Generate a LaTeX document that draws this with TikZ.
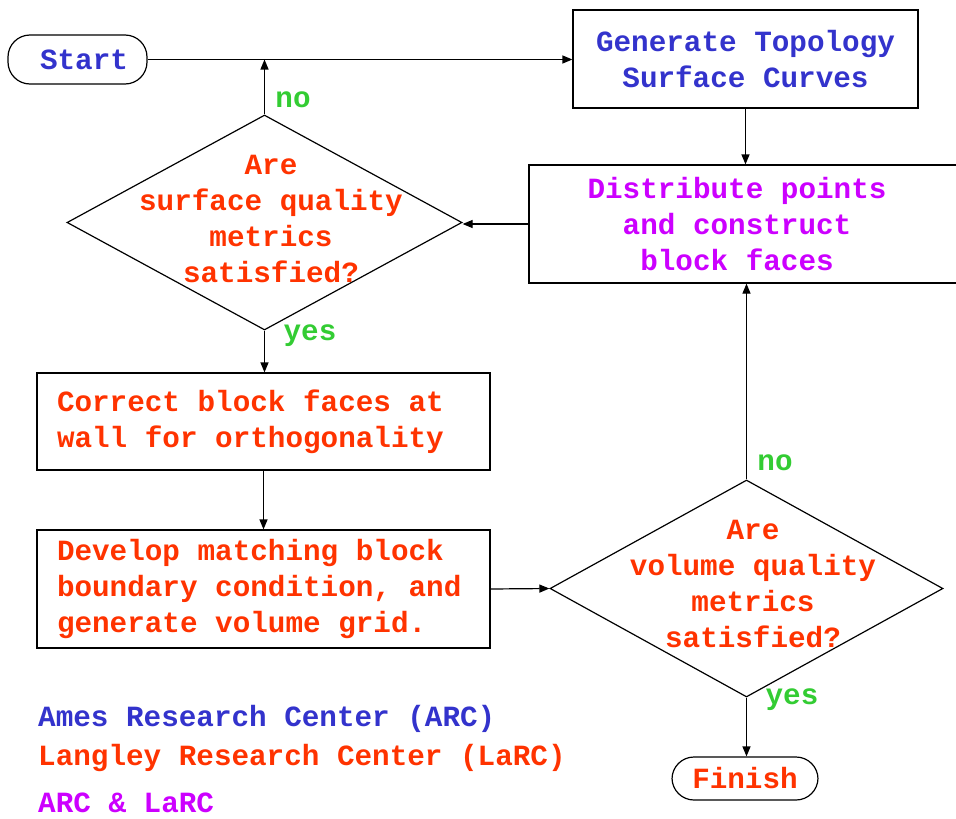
\documentclass[tikz,border=0pt]{standalone}
\usepackage{fontspec}
\setmonofont{Liberation Mono}[WordSpace={1,0,0}]
\usepackage{tikz}
\usetikzlibrary{arrows.meta,positioning,calc,shapes.geometric}
\definecolor{arcblue}{RGB}{51,51,204}
\definecolor{larcred}{RGB}{255,51,0}
\definecolor{bothpink}{RGB}{204,0,255}
\definecolor{ansgreen}{RGB}{51,204,51}
\newcommand{\fullsp}{\spaceskip=0pt\xspaceskip=0pt\relax}
\tikzset{
  txt/.style    ={font=\ttfamily\bfseries\fontsize{29.3}{36}\selectfont,inner sep=0pt},
  box/.style    ={txt,draw,line width=1.2pt,align=center},
  lbox/.style   ={box,align=left,text width=413pt,inner xsep=20pt},
  term/.style   ={box,rounded corners=22pt},
  quest/.style  ={diamond,draw,line width=1.2pt,inner sep=0pt},
  yn/.style     ={txt,text=ansgreen},
  legend/.style ={txt,anchor=west},
  arr/.style    ={-{Triangle[length=10pt,width=8pt]},line width=1.2pt},
}

\begin{document}
\begin{tikzpicture}[x=1pt,y=-1pt]
  \useasboundingbox (0,0) rectangle (956,819);
  % terminals
  \node[term,text=arcblue,minimum width=139pt,minimum height=49pt] (start) at (77.5,59.5) {\hspace*{13pt}Start};
  \node[term,text=larcred,minimum width=146pt,minimum height=43pt] (finish) at (745,778.5) {Finish};
  % process boxes
  \node[box,text=arcblue,minimum width=345pt,minimum height=98pt] (gen) at (745.5,59)
        {Generate Topology\\Surface Curves};
  \node[box,minimum width=431pt,minimum height=118pt] (dist) at (744.5,224) {};
  \node[txt,align=center,text=bothpink] (distt) at (737,224)
        {Distribute points\\and construct\\block faces};
  \node[lbox,text=larcred,minimum height=97pt] (corr) at (263.5,421.5)
        {\fullsp Correct block faces at\\wall for orthogonality};
  \node[lbox,text=larcred,minimum height=118pt] (devel) at (263.5,589)
        {\fullsp Develop matching block\\boundary condition, and\\generate volume grid.};
  % decisions
  \node[quest,minimum width=395pt,minimum height=215pt] (q1) at (264.5,222.5) {};
  \node[txt,align=center,text=larcred] (q1t) at (271,219)
        {Are\\surface quality\\metrics\\satisfied?};
  \node[quest,minimum width=393pt,minimum height=217pt] (q2) at (746.5,588.5) {};
  \node[txt,align=center,text=larcred] (q2t) at (753,584)
        {Are\\volume quality\\metrics\\satisfied?};
  \node[yn] (no1)  at (293,100) {no};
  \node[yn] (yes1) at (310,336) {yes};
  \node[yn] (no2)  at (775,463) {no};
  \node[yn] (yes2) at (792,700) {yes};
  % connectors
  \coordinate (j1) at (q1.north |- start.east);
  \draw[arr] (start.east) -- (start.east -| gen.west);
  \draw[arr] (q1.north) -- (j1);
  \draw[arr] (gen.south) -- (gen.south |- dist.north);
  \draw[arr] (dist.west) -- (dist.west -| q1.east);
  \draw[arr] (q1.south) -- (q1.south |- corr.north);
  \draw[arr] (corr.south) -- (corr.south |- devel.north);
  \draw[arr] (devel.east) -- (q2.west);
  \draw[arr] (q2.north) -- (q2.north |- dist.south);
  \draw[arr] (q2.south) -- (q2.south |- finish.north);
  % legend
  \node[legend,text=arcblue]  (arc)  at (38,719) {Ames Research Center (ARC)};
  \node[legend,text=larcred]  (larc) at (38,758) {Langley Research Center (LaRC)};
  \node[legend,text=bothpink] (both) at (38,803) {ARC \& LaRC};
\end{tikzpicture}
\end{document}
